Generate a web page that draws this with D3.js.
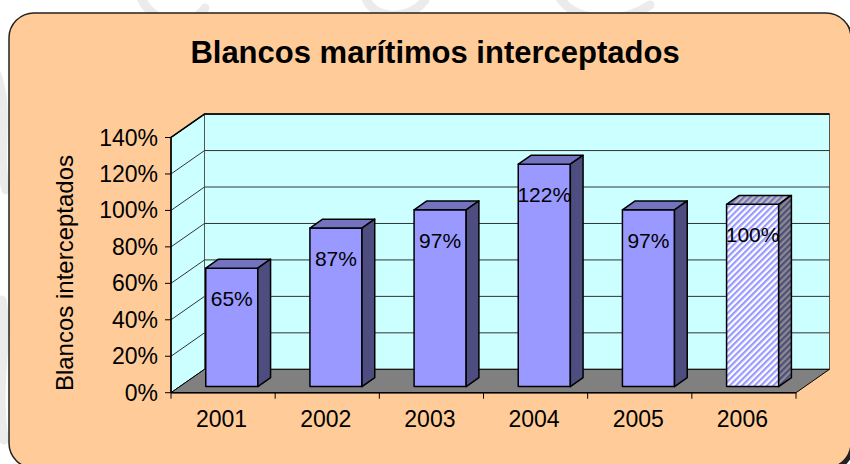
<!DOCTYPE html>
<html>
<head>
<meta charset="utf-8">
<script src="https://cdn.jsdelivr.net/npm/d3@7"></script>
<style>
  body { margin: 0; background: #fff; }
  text { font-family: "Liberation Sans", Arial, sans-serif; fill: #000; }
</style>
</head>
<body>
<div id="vis"></div>
<script>
// chart data
var years = ['2001', '2002', '2003', '2004', '2005', '2006'];
var values = [65, 87, 97, 122, 97, 100];
var hatched = ['2006'];
var yTicks = [0, 20, 40, 60, 80, 100, 120, 140];

var width = 850, height = 464;

var svg = d3.select('#vis')
    .append('svg')
    .attr('width', width)
    .attr('height', height);

// 3d depth offsets (back wall relative to front axis)
var depthX = 33.5, depthY = -23.4;
var barFront = 0.26, barBack = 0.64;

var x_axis_scale = d3.scaleBand()
    .domain(years)
    .range([171, 796]);

var x_scale = d3.scaleBand()
    .domain(years)
    .range([171, 796])
    .paddingInner(0.5)
    .paddingOuter(0.25);

var y_scale = d3.scaleLinear()
    .domain([0, 140])
    .range([392.7, 137.5]);

// faint watermark swirls in the background
var swirl = svg.append('g')
    .attr('fill', 'none')
    .attr('stroke', '#ebebeb')
    .attr('stroke-width', 9)
    .attr('stroke-linecap', 'round');
swirl.append('path').attr('d', 'M140,-5 C150,25 190,30 205,8');
swirl.append('path').attr('d', 'M365,-5 C370,20 410,22 425,0');
swirl.append('path').attr('d', 'M560,-2 C575,22 620,25 650,5');
swirl.append('path').attr('d', 'M-5,70 C12,110 -4,150 6,190 M2,300 C10,340 -5,380 4,440');

// outer rounded box
var defs = svg.append('defs');
svg.append('rect')
    .attr('x', 12).attr('y', 16)
    .attr('width', 842).attr('height', 455)
    .attr('rx', 25)
    .attr('fill', '#222');
svg.append('rect')
    .attr('x', 9).attr('y', 13)
    .attr('width', 842).attr('height', 455)
    .attr('rx', 25)
    .attr('fill', '#FFCC99')
    .attr('stroke', '#222')
    .attr('stroke-width', 1.5);

// title
svg.append('text')
    .attr('x', 435)
    .attr('y', 63)
    .attr('text-anchor', 'middle')
    .style('font-size', '31px')
    .style('font-weight', 'bold')
    .text('Blancos marítimos interceptados');

// hatch patterns for the 2006 bar
function hatch(id, fg, bg) {
    var p = defs.append('pattern')
        .attr('id', id)
        .attr('patternUnits', 'userSpaceOnUse')
        .attr('width', 4.4).attr('height', 4.4)
        .attr('patternTransform', 'rotate(45)');
    p.append('rect').attr('width', 4.4).attr('height', 4.4).attr('fill', bg);
    p.append('rect').attr('width', 2.2).attr('height', 4.4).attr('fill', fg);
}
hatch('hatchFront', '#9999FF', '#ffffff');
hatch('hatchTop', '#7373BF', '#bfbfbf');
hatch('hatchSide', '#4D4D80', '#8c8c8c');

function pt(x, v, z) {
    return [x + z * depthX, y_scale(v) + z * depthY];
}
function poly(points) {
    return 'M' + points.map(function(p) { return p[0] + ',' + p[1]; }).join('L') + 'Z';
}

var x0 = x_axis_scale.range()[0], x1 = x_axis_scale.range()[1];
var vMax = y_scale.domain()[1];

// left side wall
svg.append('path')
    .attr('d', poly([pt(x0, 0, 0), pt(x0, vMax, 0), pt(x0, vMax, 1), pt(x0, 0, 1)]))
    .attr('fill', '#CCFFFF')
    .attr('stroke', '#000')
    .attr('stroke-width', 1);

// back wall
svg.append('path')
    .attr('d', poly([pt(x0, 0, 1), pt(x0, vMax, 1), pt(x1, vMax, 1), pt(x1, 0, 1)]))
    .attr('fill', '#CCFFFF')
    .attr('stroke', '#555')
    .attr('stroke-width', 1);

// floor
svg.append('path')
    .attr('d', poly([pt(x0, 0, 0), pt(x0, 0, 1), pt(x1, 0, 1), pt(x1, 0, 0)]))
    .attr('fill', '#808080')
    .attr('stroke', '#000')
    .attr('stroke-width', 1);

// gridlines
var grid = svg.append('g')
    .attr('fill', 'none')
    .attr('stroke', '#333')
    .attr('stroke-width', 1);
yTicks.forEach(function(t) {
    if (t === 0) return;
    grid.append('path')
        .attr('d', 'M' + pt(x0, t, 0) + 'L' + pt(x0, t, 1) + 'L' + pt(x1, t, 1));
});
// back wall top edge
svg.append('path')
    .attr('d', 'M' + pt(x0, 0, 0) + 'L' + pt(x0, vMax, 0) + 'L' + pt(x0, vMax, 1) + 'L' + pt(x1, vMax, 1))
    .attr('fill', 'none')
    .attr('stroke', '#000')
    .attr('stroke-width', 1.5);

// y axis ticks and labels
var yAxis = svg.append('g');
yTicks.forEach(function(t) {
    yAxis.append('line')
        .attr('x1', x0 - 6).attr('x2', x0)
        .attr('y1', y_scale(t)).attr('y2', y_scale(t))
        .attr('stroke', '#000');
    yAxis.append('text')
        .attr('x', x0 - 13)
        .attr('y', y_scale(t) + 8)
        .attr('text-anchor', 'end')
        .style('font-size', '23px')
        .text(t + '%');
});

// x axis
var xAxis = svg.append('g');
xAxis.append('line')
    .attr('x1', x0).attr('x2', x1)
    .attr('y1', y_scale(0)).attr('y2', y_scale(0))
    .attr('stroke', '#000').attr('stroke-width', 1.5);
years.concat([null]).forEach(function(yr, i) {
    var xx = yr ? x_axis_scale(yr) : x1;
    xAxis.append('line')
        .attr('x1', xx).attr('x2', xx)
        .attr('y1', y_scale(0)).attr('y2', y_scale(0) + 6)
        .attr('stroke', '#000');
});
years.forEach(function(yr) {
    xAxis.append('text')
        .attr('x', x_axis_scale(yr) + x_axis_scale.bandwidth() / 2 - 1.5)
        .attr('y', y_scale(0) + 34)
        .attr('text-anchor', 'middle')
        .style('font-size', '23px')
        .text(yr);
});

// bars
var bars = svg.append('g');
years.forEach(function(yr, i) {
    var v = values[i];
    var bx0 = x_scale(yr), bx1 = bx0 + x_scale.bandwidth();
    var isHatch = hatched.indexOf(yr) >= 0;
    var g = bars.append('g')
        .attr('stroke', '#000')
        .attr('stroke-width', 1.5)
        .attr('stroke-linejoin', 'round');
    // front
    g.append('path')
        .attr('d', poly([pt(bx0, 0, barFront), pt(bx0, v, barFront), pt(bx1, v, barFront), pt(bx1, 0, barFront)]))
        .attr('fill', isHatch ? 'url(#hatchFront)' : '#9999FF');
    // top
    g.append('path')
        .attr('d', poly([pt(bx0, v, barFront), pt(bx0, v, barBack), pt(bx1, v, barBack), pt(bx1, v, barFront)]))
        .attr('fill', isHatch ? 'url(#hatchTop)' : '#7373BF');
    // side
    g.append('path')
        .attr('d', poly([pt(bx1, 0, barFront), pt(bx1, v, barFront), pt(bx1, v, barBack), pt(bx1, 0, barBack)]))
        .attr('fill', isHatch ? 'url(#hatchSide)' : '#4D4D80');
    // data label
    var c = pt((bx0 + bx1) / 2, v, barFront);
    bars.append('text')
        .attr('x', c[0])
        .attr('y', c[1] + 38)
        .attr('text-anchor', 'middle')
        .style('font-size', '21px')
        .text(v + '%');
});

// axis title
svg.append('text')
    .attr('transform', 'translate(73,273) rotate(-90)')
    .attr('text-anchor', 'middle')
    .style('font-size', '24px')
    .text('Blancos interceptados');
</script>
</body>
</html>
